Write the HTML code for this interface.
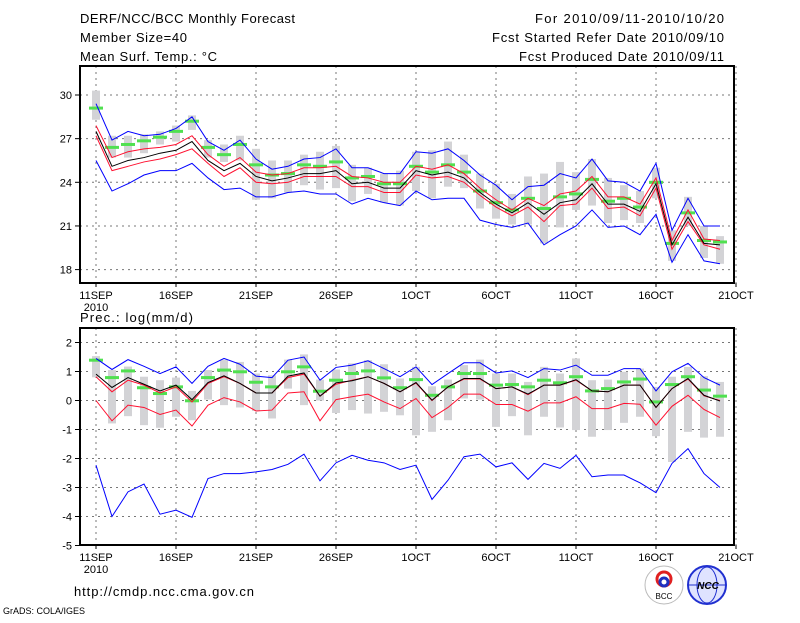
<!DOCTYPE html>
<html><head><meta charset="utf-8"><style>
body{margin:0;background:#fff;width:800px;height:618px;overflow:hidden}
svg text{font-family:"Liberation Sans",sans-serif;fill:#000}
</style></head><body>
<svg id="c" width="800" height="618" viewBox="0 0 800 618">
<text x="80" y="23" font-size="13" textLength="215">DERF/NCC/BCC Monthly Forecast</text>
<text x="80" y="42" font-size="13" textLength="107">Member Size=40</text>
<text x="80" y="61" font-size="13" textLength="137">Mean Surf. Temp.: °C</text>
<text x="535" y="23" font-size="13" textLength="189">For 2010/09/11-2010/10/20</text>
<text x="492" y="42" font-size="13" textLength="232">Fcst Started Refer Date 2010/09/10</text>
<text x="519" y="61" font-size="13" textLength="205">Fcst Produced Date 2010/09/11</text>
<text x="80" y="322" font-size="13" textLength="113">Prec.: log(mm/d)</text>
<text x="74" y="596" font-size="13" textLength="180">http://cmdp.ncc.cma.gov.cn</text>
<text x="3" y="614" font-size="9">GrADS: COLA/IGES</text>
<g><circle cx="664" cy="585" r="19" fill="#fff" stroke="#bbb"/><circle cx="664" cy="579" r="7" fill="none" stroke="#e02020" stroke-width="3"/><circle cx="664" cy="582" r="4" fill="none" stroke="#2030c0" stroke-width="3"/><text x="664" y="599" font-size="8" text-anchor="middle">BCC</text></g>
<g><circle cx="707" cy="585" r="19" fill="#dfe3ff" stroke="#2030d0" stroke-width="2"/><ellipse cx="707" cy="585" rx="10" ry="18" fill="none" stroke="#2030d0"/><line x1="689" y1="585" x2="725" y2="585" stroke="#2030d0"/><text x="708" y="589" font-size="10" text-anchor="middle" fill="#2030d0" font-style="italic" font-weight="bold">NCC</text></g>
</svg>
<script>
const days=['11SEP','16SEP','21SEP','26SEP','1OCT','6OCT','11OCT','16OCT','21OCT'];
const tBlueUp=[29.4,26.9,27.5,27.2,27.3,27.7,28.5,26.8,26.2,26.9,25.6,24.9,25.1,25.6,25.7,26.3,25.0,25.0,24.6,24.6,26.1,26.0,26.3,25.5,24.5,23.8,22.8,23.7,23.8,24.6,24.3,25.6,24.1,24.0,23.4,25.3,20.7,22.9,21.0,21.0];
const tRedUp=[27.9,25.7,26.1,26.3,26.4,26.6,27.2,25.9,25.1,25.7,24.7,24.5,24.6,25.0,25.0,25.1,24.4,24.3,24.0,24.0,25.1,24.9,25.2,24.6,23.6,22.8,22.1,22.9,22.4,23.2,23.4,24.4,23.0,23.0,22.5,24.3,20.0,22.1,20.1,20.0];
const tMean=[27.5,25.1,25.5,25.7,26.0,26.2,26.8,25.5,24.8,25.3,24.4,24.1,24.3,24.6,24.6,24.8,23.9,24.0,23.6,23.6,24.8,24.5,24.7,24.3,23.3,22.5,21.9,22.6,21.8,22.6,22.8,23.9,22.5,22.5,22.0,23.9,19.7,21.6,19.8,19.7];
const tRedLow=[27.2,24.8,25.1,25.4,25.6,25.9,26.3,25.3,24.4,25.0,24.0,23.9,24.0,24.4,24.4,24.4,23.7,23.7,23.3,23.3,24.5,24.3,24.4,24.0,23.1,22.3,21.7,22.3,21.3,22.4,22.5,23.6,22.2,22.3,21.7,23.6,19.4,21.3,19.7,19.4];
const tBlueLow=[25.5,23.4,23.9,24.5,24.8,24.8,25.3,24.3,23.5,23.6,23.0,23.0,23.3,23.4,23.2,23.2,22.5,22.9,22.6,22.4,23.4,22.8,22.9,22.9,21.4,21.1,20.9,21.2,19.7,20.4,21.0,22.1,20.9,21.0,20.4,21.8,18.5,20.4,18.6,18.4];
const tObs=[29.1,26.4,26.6,26.85,27.1,27.5,28.2,26.4,25.9,26.6,25.2,24.5,24.6,25.2,25.1,25.4,24.3,24.4,23.9,23.9,25.1,24.7,25.2,24.7,23.4,22.6,22.1,22.9,22.2,23.0,23.2,24.2,22.7,22.9,22.3,24.0,19.8,21.9,20.0,19.9];
const tBarTop=[30.3,27.2,27.2,27.3,27.5,27.9,28.6,26.9,26.6,27.2,26.3,25.5,25.5,25.9,26.1,26.5,25.2,25.0,24.6,24.8,26.1,26.2,26.8,25.9,24.6,23.9,23.2,24.4,24.6,25.4,24.7,25.6,24.3,23.8,23.4,25.0,20.7,23.0,21.0,20.3];
const tBarBot=[28.3,25.7,25.7,26.0,26.6,26.8,27.6,25.7,25.4,25.5,22.8,22.9,23.3,23.8,23.5,23.6,22.7,23.2,22.6,22.4,23.4,22.9,23.7,23.6,22.2,21.5,21.1,21.1,19.8,20.9,22.1,22.4,21.2,21.4,21.2,22.9,18.6,21.0,18.8,18.4];
const pBlueUp=[1.45,1.07,1.41,1.18,0.93,1.16,0.59,1.18,1.45,1.25,0.84,0.79,1.39,1.5,0.7,1.14,1.22,1.37,1.1,0.82,1.16,0.55,0.93,1.3,1.3,0.95,1.02,0.79,1.1,1.05,1.22,0.87,0.87,1.1,1.1,0.33,0.99,1.28,0.79,0.53];
const pRedUp=[0.82,0.3,0.7,0.53,0.26,0.47,-0.05,0.59,0.82,0.59,0.26,0.26,0.79,0.91,0.15,0.56,0.7,0.82,0.59,0.3,0.6,0.0,0.47,0.74,0.74,0.41,0.47,0.2,0.53,0.53,0.7,0.33,0.3,0.53,0.53,-0.24,0.41,0.74,0.16,-0.0];
const pMean=[0.91,0.45,0.79,0.56,0.33,0.53,0.03,0.62,0.85,0.59,0.26,0.26,0.84,0.95,0.15,0.61,0.68,0.82,0.59,0.3,0.62,0.01,0.47,0.76,0.76,0.41,0.47,0.22,0.53,0.53,0.72,0.33,0.3,0.53,0.53,-0.24,0.41,0.76,0.18,-0.02];
const pRedLow=[0.0,-0.7,-0.16,-0.24,-0.48,-0.33,-0.88,-0.16,0.1,-0.05,-0.36,-0.33,0.26,0.3,-0.7,0.03,0.13,0.22,-0.05,-0.28,0.07,-0.59,-0.24,0.22,0.22,-0.14,-0.14,-0.37,-0.08,-0.08,0.13,-0.28,-0.28,-0.1,-0.13,-0.85,-0.2,0.18,-0.31,-0.59];
const pBlueLow=[-2.23,-4.0,-3.15,-2.88,-3.92,-3.78,-4.03,-2.69,-2.52,-2.52,-2.46,-2.38,-2.2,-1.85,-2.77,-2.15,-1.89,-2.06,-2.15,-2.38,-2.23,-3.41,-2.75,-1.94,-1.85,-2.29,-2.15,-2.72,-2.17,-2.34,-1.89,-2.63,-2.57,-2.57,-2.84,-3.18,-2.17,-1.66,-2.52,-3.0];
const pObs=[1.39,0.79,1.02,0.44,0.24,0.47,-0.01,0.79,1.05,0.99,0.63,0.47,0.99,1.16,0.32,0.7,0.93,1.02,0.78,0.44,0.72,0.18,0.47,0.93,0.93,0.53,0.55,0.47,0.7,0.61,0.82,0.33,0.41,0.64,0.74,-0.05,0.55,0.82,0.36,0.15];
const pBarTop=[1.53,1.05,1.17,0.82,0.7,0.79,0.33,1.05,1.41,1.33,0.93,0.87,1.41,1.59,0.72,1.07,1.28,1.39,1.25,0.76,1.16,0.49,0.72,1.22,1.41,0.93,0.93,0.64,1.16,0.93,1.45,0.7,0.72,0.99,1.1,0.47,0.82,1.16,0.84,0.64];
const pBarBot=[0.8,-0.79,-0.54,-0.85,-0.94,-0.56,-0.68,0.03,-0.16,-0.24,-0.36,-0.62,0.41,-0.16,0.0,-0.43,-0.33,-0.45,-0.39,-0.51,-1.2,-1.08,-0.68,0.07,0.03,-0.91,-0.54,-1.2,-0.56,-0.93,-1.02,-1.25,-1.02,-0.77,-0.56,-1.23,-2.12,-1.08,-1.28,-1.25];
const tTicks=[18,21,24,27,30], pTicks=[2,1,0,-1,-2,-3,-4,-5];
const NS='http://www.w3.org/2000/svg', svg=document.getElementById('c');
const X0=80,X1=734;
const xd=d=>96+d*16;
function el(t,a,p){const e=document.createElementNS(NS,t);for(const k in a)e.setAttribute(k,a[k]);(p||svg).appendChild(e);return e;}
function panel(name,top,bot,yf,ticks,arr){
  const g=el('g',{});
  
  
  days.forEach((lab,i)=>{const x=xd(i*5);
    const gl=el('line',{x1:x,x2:x,y1:top,y2:bot,stroke:'#777','stroke-dasharray':'2,4'},g);
    
    
    el('line',{x1:x,x2:x,y1:bot,y2:bot+4,stroke:'#000'},g);
    const t=el('text',{x:x,y:bot+16,'font-size':11,'text-anchor':'middle'},g);t.textContent=lab;
    
    
  });
  const yr=el('text',{x:96,y:bot+28,'font-size':11,'text-anchor':'middle'},g);yr.textContent='2010';
  
  
  ticks.forEach(v=>{const y=yf(v);
    if(y>top+2&&y<bot-2){const gl=el('line',{x1:X0,x2:X1,y1:y,y2:y,stroke:'#777','stroke-dasharray':'2,4'},g);
      
      }
    el('line',{x1:X0-5,x2:X0,y1:y,y2:y,stroke:'#000'},g);
    const t=el('text',{x:X0-8,y:y+4,'font-size':11,'text-anchor':'end'},g);t.textContent=v;
    
    
  });
  arr.barTop.forEach((v,i)=>{const y1=yf(v),y2=yf(arr.barBot[i]);
    const r=el('rect',{x:xd(i)-4,y:y1,width:8,height:y2-y1,fill:'#d3d3d6'},g);
    
    
  });
  arr.obs.forEach((v,i)=>{const r=el('rect',{x:xd(i)-7,y:yf(v)-1.5,width:14,height:3,fill:'#50e050'},g);
    
    });
  [[arr.blueLow,'#0000ff','lower-bound-line'],[arr.redLow,'#ff1030','lower-spread-line'],[arr.blueUp,'#0000ff','upper-bound-line'],[arr.redUp,'#ff1030','upper-spread-line'],[arr.mean,'#000','ensemble-mean-line']].forEach(([s,c,n])=>{
    const p=el('polyline',{points:s.map((v,i)=>xd(i)+','+yf(v)).join(' '),fill:'none',stroke:c,'stroke-width':1},g);
    
    
  });
  const f=el('rect',{x:X0,y:top,width:X1-X0,height:bot-top,fill:'none',stroke:'#000','stroke-width':2},g);
  
  
}
panel('temperature-panel',66,283,v=>95+(30-v)*14.55,tTicks,{barTop:tBarTop,barBot:tBarBot,obs:tObs,blueUp:tBlueUp,redUp:tRedUp,mean:tMean,redLow:tRedLow,blueLow:tBlueLow});
panel('precipitation-panel',328,545,v=>400.5-v*29,pTicks,{barTop:pBarTop,barBot:pBarBot,obs:pObs,blueUp:pBlueUp,redUp:pRedUp,mean:pMean,redLow:pRedLow,blueLow:pBlueLow});
</script>
</body></html>
